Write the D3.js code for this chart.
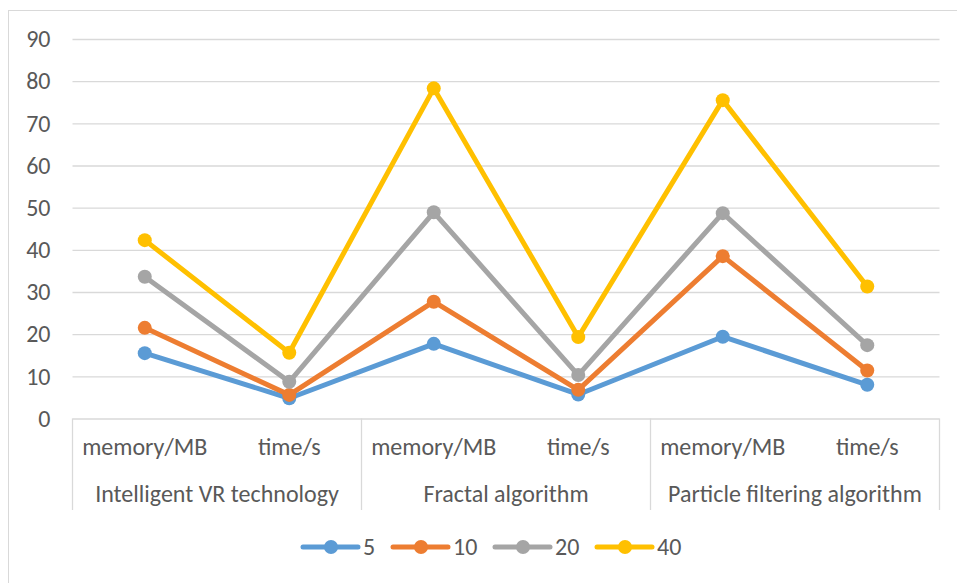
<!DOCTYPE html>
<html>
<head>
<meta charset="utf-8">
<script src="https://cdn.jsdelivr.net/npm/d3@7"></script>
<style>
  html, body { margin: 0; padding: 0; background: #fff; }
  svg { display: block; }
  text { font-family: Carlito, Calibri, Lato, "Open Sans", sans-serif; fill: #595959; }
</style>
</head>
<body>
<svg id="chart" width="957" height="583"></svg>
<script>
const groups = ["Intelligent VR technology", "Fractal algorithm", "Particle filtering algorithm"];
const metrics = ["memory/MB", "time/s"];
const seriesNames = ["5", "10", "20", "40"];
const values5  = [15.5, 4.8, 17.7, 5.7, 19.4, 8.0];
const values10 = [21.5, 5.6, 27.7, 6.8, 38.5, 11.4];
const values20 = [33.6, 8.7, 48.9, 10.3, 48.7, 17.4];
const values40 = [42.3, 15.6, 78.3, 19.3, 75.5, 31.3];
const yTicks = [0, 10, 20, 30, 40, 50, 60, 70, 80, 90];
const colors = ["#5B9BD5", "#ED7D31", "#A5A5A5", "#FFC000"];

(function () {
const seriesValues = [values5, values10, values20, values40];
const categories = [];
groups.forEach(g => metrics.forEach(m => categories.push(g + "|" + m)));

const svg = d3.select("#chart");
const pLeft = 72.5, pRight = 939.5, pTop = 39, pBottom = 418.5;
const fontSize = 24;

// outer chart border
svg.append("rect").attr("x", 8.5).attr("y", 10.5).attr("width", 1000).attr("height", 1000)
  .attr("fill", "none").attr("stroke", "#d9d9d9").attr("stroke-width", 1);

const x = d3.scaleBand().domain(categories).range([pLeft, pRight]).padding(0);
const xg = d3.scaleBand().domain(groups).range([pLeft, pRight]).padding(0);
const y = d3.scaleLinear().domain([0, 90]).range([pBottom, pTop]);

// gridlines
const yAxis = d3.axisLeft(y).tickValues(yTicks).tickSize(-(pRight - pLeft)).tickPadding(22);
const ga = svg.append("g").attr("transform", `translate(${pLeft},0)`).call(yAxis);
ga.select(".domain").remove();
ga.selectAll(".tick line").attr("stroke", "#d9d9d9").attr("stroke-width", 1.3);
ga.selectAll(".tick text").attr("font-size", fontSize).attr("fill", "#595959")
  .style("font-family", "Carlito, Calibri, Lato, 'Open Sans', sans-serif");

// category axis box
const boxBottom = 510;
const dividers = [pLeft].concat(groups.map(g => xg(g) + xg.bandwidth()));
svg.append("g").selectAll("line").data(dividers).join("line")
  .attr("x1", d => d).attr("x2", d => d).attr("y1", pBottom).attr("y2", boxBottom)
  .attr("stroke", "#d9d9d9").attr("stroke-width", 1.3);

svg.append("g").selectAll("text").data(categories).join("text")
  .attr("x", d => x(d) + x.bandwidth() / 2).attr("y", 455)
  .attr("text-anchor", "middle").attr("font-size", fontSize)
  .text(d => d.split("|")[1]);

svg.append("g").selectAll("text").data(groups).join("text")
  .attr("x", d => xg(d) + xg.bandwidth() / 2).attr("y", 502)
  .attr("text-anchor", "middle").attr("font-size", fontSize)
  .text(d => d);

// lines
const line = d3.line().x((d, i) => x(categories[i]) + x.bandwidth() / 2).y(d => y(d));
seriesValues.forEach((vals, si) => {
  const g = svg.append("g");
  g.append("path").datum(vals).attr("d", line).attr("fill", "none")
    .attr("stroke", colors[si]).attr("stroke-width", 5).attr("stroke-linejoin", "round");
  g.selectAll("circle").data(vals).join("circle")
    .attr("cx", (d, i) => x(categories[i]) + x.bandwidth() / 2).attr("cy", d => y(d))
    .attr("r", 7).attr("fill", colors[si]);
});

// legend
const legendX = [303, 393, 495, 597];
const ly = 547;
const lg = svg.append("g").selectAll("g").data(seriesNames).join("g")
  .attr("transform", (d, i) => `translate(${legendX[i]},${ly})`);
lg.append("line").attr("x1", 0).attr("x2", 55).attr("y1", 0).attr("y2", 0)
  .attr("stroke", (d, i) => colors[i]).attr("stroke-width", 5).attr("stroke-linecap", "round");
lg.append("circle").attr("cx", 28).attr("cy", 0).attr("r", 7).attr("fill", (d, i) => colors[i]);
lg.append("text").attr("x", 60).attr("y", 0).attr("dy", "0.35em").attr("font-size", fontSize)
  .text(d => d);
})();
</script>
</body>
</html>
